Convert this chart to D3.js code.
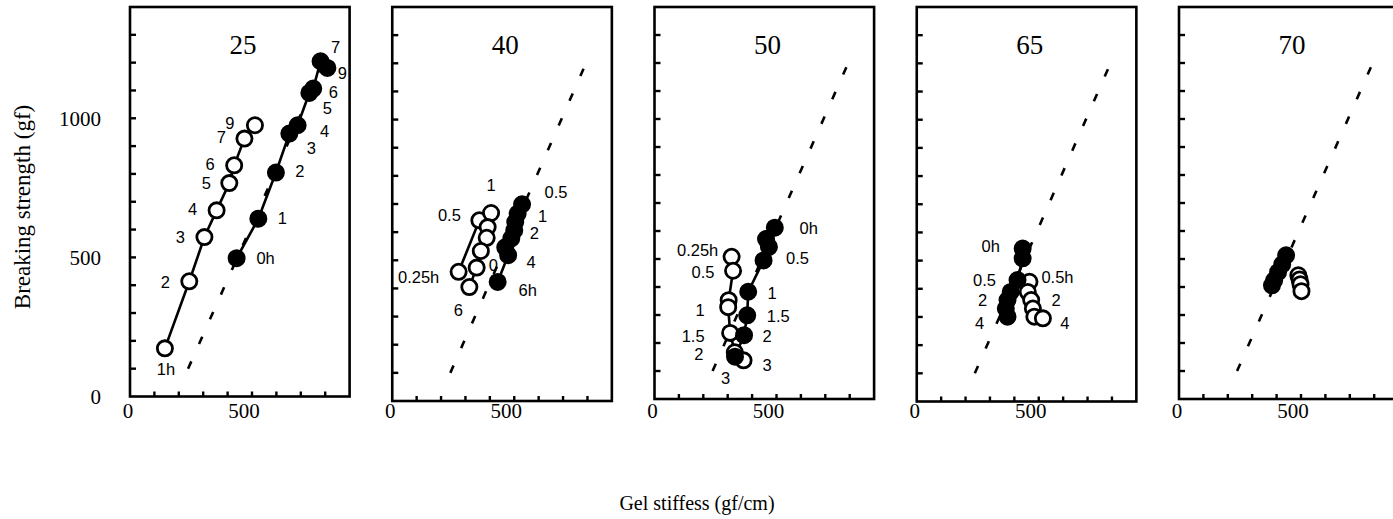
<!DOCTYPE html>
<html>
<head>
<meta charset="utf-8">
<script src="https://cdn.jsdelivr.net/npm/d3@7"></script>
<style>
  body { margin: 0; background: #fff; }
  .tick-label { font-family: "Liberation Serif", "Times New Roman", serif; font-size: 21px; }
  .pt-label { font-family: "Liberation Sans", Arial, sans-serif; font-size: 16.5px; }
</style>
</head>
<body>
<div id="chart"></div>
<script>
"use strict";

// panel titles (temperature)
const temps = ["25", "40", "50", "65", "70"];

// points are [gel stiffness (gf/cm), breaking strength (gf)]
const open25 = [[143, 173], [243, 414], [305, 573], [355, 669], [407, 767], [427, 831], [469, 927], [512, 975]];
const open25Labels = ["1h", "2", "3", "4", "5", "6", "7", "9"];
const filled25 = [[437, 497], [526, 639], [598, 805], [653, 945], [687, 975], [735, 1091], [751, 1107], [781, 1205], [809, 1181]];
const filled25Labels = ["0h", "1", "2", "3", "4", "5", "6", "7", "9"];

const open40 = [[272, 459], [357, 642], [405, 668], [391, 618], [387, 580], [363, 533], [346, 474], [316, 405]];
const open40Labels = ["0.25h", "0.5", "1", "", "", "", "", "6"];
const filled40 = [[532, 699], [514, 666], [504, 636], [500, 606], [488, 578], [463, 546], [475, 518], [432, 423]];
const filled40Labels = ["0.5", "1", "", "2", "", "0", "4", "6h"];

const open50 = [[316, 508], [322, 458], [304, 353], [302, 328], [310, 236], [329, 167], [365, 138]];
const open50Labels = ["0.25h", "0.5", "", "1", "1.5", "2", "3"];
const filled50 = [[493, 612], [457, 571], [469, 543], [447, 495], [384, 383], [380, 299], [367, 228], [330, 151]];
const filled50Labels = ["0h", "", "", "0.5", "1", "1.5", "2", "3"];

const open65 = [[462, 425], [455, 389], [469, 360], [476, 330], [482, 301], [517, 295]];
const open65Labels = ["0.5h", "", "2", "", "", "4"];
const filled65 = [[434, 543], [434, 508], [413, 431], [385, 389], [372, 360], [365, 330], [372, 301]];
const filled65Labels = ["0h", "", "0.5", "", "2", "", "4"];

const open70 = [[489, 442], [494, 427], [498, 410], [502, 385]];
const filled70 = [[439, 513], [423, 481], [406, 453], [390, 424], [381, 406]];

// dashed reference line, same in every panel
const refLine = [[238, 100], [808, 1228]];

const xTickLabels = [0, 500];
const yTickLabels = [0, 500, 1000];

// label placement (pixel offsets from the marker centre)
const open25Off = [[1, 21], [-24, 1], [-24, 0], [-24, -1], [-23, 0], [-24, -1], [-23, -1], [-25, -2]];
const filled25Off = [[29, 0], [24, 0], [24, -1], [22, 15], [27, 6], [18, 15], [20, 4], [15, -14], [15, 5]];
const open40Off = [[-40, 5], [-30, -5], [0, -28], [0, 0], [0, 0], [0, 0], [0, 0], [-11, 23]];
const filled40Off = [[34, -12], [25, 3], [0, 0], [20, 3], [0, 0], [-12, 18], [23, 7], [30, 8]];
const open50Off = [[-34, -7], [-30, 1], [0, 0], [-28, 3], [-37, 3], [-36, 2], [-18, 18]];
const filled50Off = [[34, 1], [0, 0], [0, 0], [34, -2], [24, 1], [31, 1], [23, 1], [32, 9]];
const open65Off = [[28, -5], [0, 0], [25, 0], [0, 0], [0, 0], [22, 5]];
const filled65Off = [[-32, -2], [0, 0], [-33, 0], [0, 0], [-25, 0], [0, 0], [-28, 7]];

const panelData = [
    { open: open25, openLab: open25Labels, openOff: open25Off, filled: filled25, filledLab: filled25Labels, filledOff: filled25Off },
    { open: open40, openLab: open40Labels, openOff: open40Off, filled: filled40, filledLab: filled40Labels, filledOff: filled40Off },
    { open: open50, openLab: open50Labels, openOff: open50Off, filled: filled50, filledLab: filled50Labels, filledOff: filled50Off },
    { open: open65, openLab: open65Labels, openOff: open65Off, filled: filled65, filledLab: filled65Labels, filledOff: filled65Off },
    { open: open70, openLab: [], openOff: [], filled: filled70, filledLab: [], filledOff: [] }
];

const width = 1393, height = 519;
const panelW = 219.6;
const panelTop = 7;
const panelBottoms = [396.5, 401, 399, 401.5, 399];
const panelLeft = d3.scaleLinear().domain([0, 4]).range([130, 1179]);

const svg = d3.select("#chart")
    .append("svg")
    .attr("width", width)
    .attr("height", height);

temps.forEach(function (t, i) {
    const left = panelLeft(i);
    const bottom = panelBottoms[i];
    const x = d3.scaleLinear().domain([0, 900]).range([left, left + panelW]);
    const y = d3.scaleLinear().domain([0, 1400]).range([bottom, panelTop]);
    const d = panelData[i];
    const g = svg.append("g").attr("class", "panel");

    // frame
    g.append("rect")
        .attr("x", left).attr("y", panelTop)
        .attr("width", panelW).attr("height", bottom - panelTop)
        .attr("fill", "none").attr("stroke", "#000").attr("stroke-width", 2.6);

    // inward ticks
    g.selectAll("line.yt")
        .data(d3.range(100, 1400, 100))
        .enter().append("line")
        .attr("x1", left).attr("x2", left + 6)
        .attr("y1", v => y(v)).attr("y2", v => y(v))
        .attr("stroke", "#000").attr("stroke-width", 2.4);
    g.selectAll("line.xt")
        .data(d3.range(100, 900, 100))
        .enter().append("line")
        .attr("x1", v => x(v)).attr("x2", v => x(v))
        .attr("y1", bottom).attr("y2", bottom - 5)
        .attr("stroke", "#000").attr("stroke-width", 2.4);

    // x tick labels
    g.selectAll("text.xl")
        .data(xTickLabels)
        .enter().append("text")
        .attr("class", "tick-label")
        .attr("x", v => x(v) + (v === 0 ? -2 : -8))
        .attr("y", 418)
        .attr("text-anchor", "middle")
        .text(v => v);

    if (i === 0) {
        g.selectAll("text.yl")
            .data(yTickLabels)
            .enter().append("text")
            .attr("class", "tick-label")
            .attr("x", left - 29)
            .attr("y", v => y(v))
            .attr("dy", "0.35em")
            .attr("text-anchor", "end")
            .text(v => v);
    }

    // panel title
    g.append("text")
        .attr("x", left + 113).attr("y", 45)
        .attr("dy", "0.35em")
        .attr("text-anchor", "middle")
        .style("font-family", "'Liberation Serif', 'Times New Roman', serif")
        .style("font-size", "27px")
        .text(t);

    // reference line
    g.append("line")
        .attr("x1", x(refLine[0][0])).attr("y1", y(refLine[0][1]))
        .attr("x2", x(refLine[1][0])).attr("y2", y(refLine[1][1]))
        .attr("stroke", "#000").attr("stroke-width", 2.6)
        .attr("stroke-dasharray", "8,19");

    // point labels (under the markers)
    function labels(pts, labs, offs) {
        g.selectAll(null)
            .data(pts.map((p, k) => ({ p: p, t: labs[k], o: offs[k] })).filter(e => e.t))
            .enter().append("text")
            .attr("class", "pt-label")
            .attr("x", e => x(e.p[0]) + e.o[0])
            .attr("y", e => y(e.p[1]) + e.o[1])
            .attr("dy", "0.35em")
            .attr("text-anchor", "middle")
            .text(e => e.t);
    }
    labels(d.open, d.openLab, d.openOff);
    labels(d.filled, d.filledLab, d.filledOff);

    const line = d3.line().x(p => x(p[0])).y(p => y(p[1]));
    g.append("path").attr("d", line(d.open))
        .attr("fill", "none").attr("stroke", "#000").attr("stroke-width", 2.6);
    g.append("path").attr("d", line(d.filled))
        .attr("fill", "none").attr("stroke", "#000").attr("stroke-width", 2.6);

    g.selectAll("circle.open")
        .data(d.open)
        .enter().append("circle")
        .attr("cx", p => x(p[0])).attr("cy", p => y(p[1]))
        .attr("r", 7.6)
        .attr("fill", "#fff").attr("stroke", "#000").attr("stroke-width", 2.8);
    g.selectAll("circle.filled")
        .data(d.filled)
        .enter().append("circle")
        .attr("cx", p => x(p[0])).attr("cy", p => y(p[1]))
        .attr("r", 8)
        .attr("fill", "#000").attr("stroke", "#000").attr("stroke-width", 2);
});

// axis titles
svg.append("text")
    .attr("transform", "translate(22,207) rotate(-90)")
    .attr("dy", "0.35em")
    .attr("text-anchor", "middle")
    .style("font-family", "'Liberation Serif', 'Times New Roman', serif")
    .style("font-size", "23px")
    .text("Breaking strength (gf)");

svg.append("text")
    .attr("x", 697).attr("y", 503)
    .attr("dy", "0.35em")
    .attr("text-anchor", "middle")
    .style("font-family", "'Liberation Serif', 'Times New Roman', serif")
    .style("font-size", "20px")
    .text("Gel stiffess (gf/cm)");
</script>
</body>
</html>
